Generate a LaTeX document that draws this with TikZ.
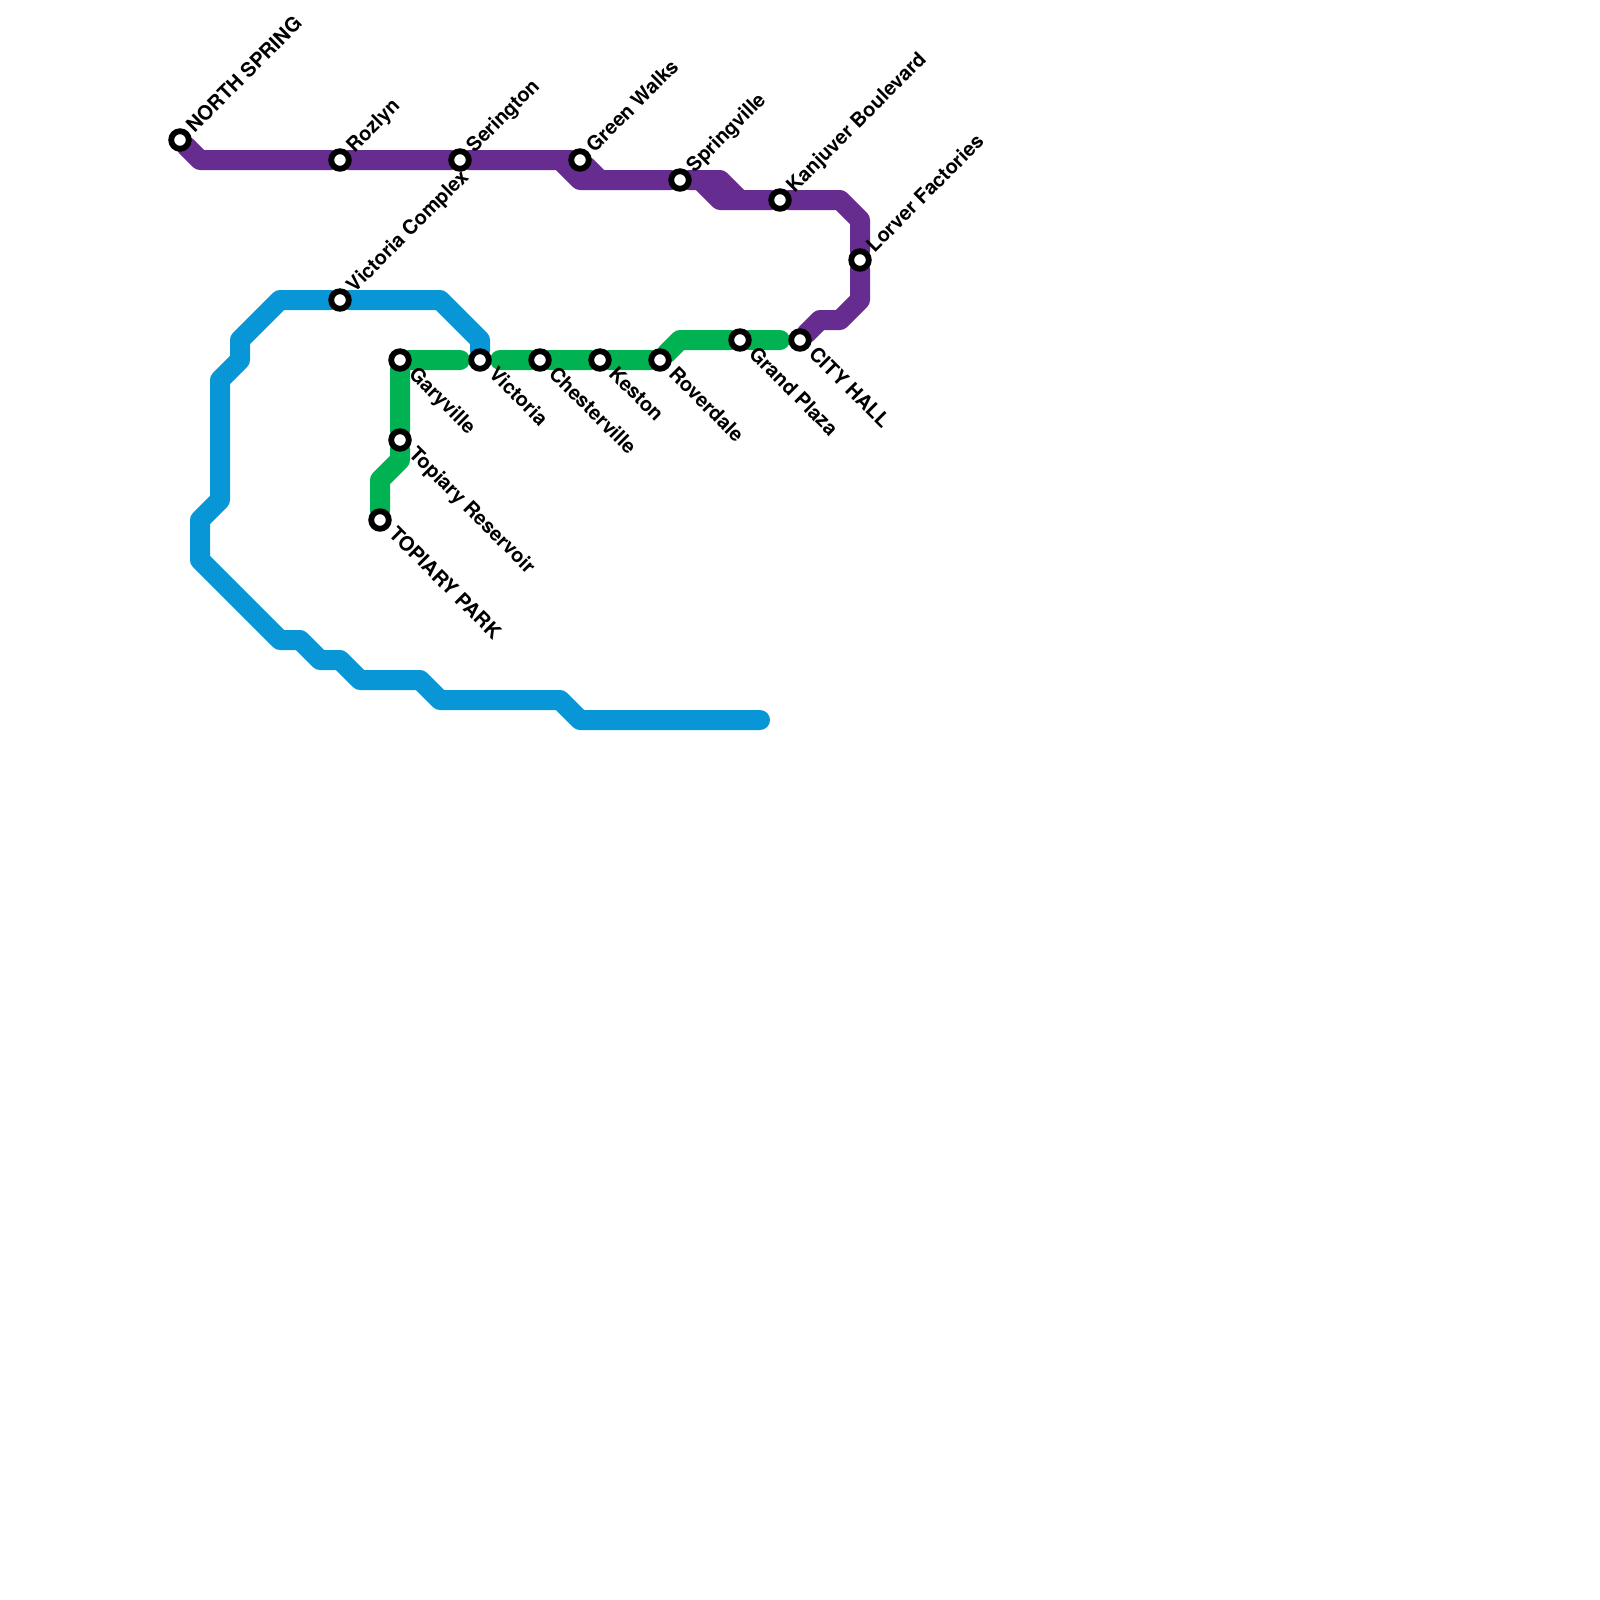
\documentclass[tikz,border=0pt]{standalone}
\usepackage{fontspec}
\setmainfont{TeX Gyre Heros}
\usetikzlibrary{backgrounds}
\definecolor{linepurple}{RGB}{102,44,144}
\definecolor{lineblue}{RGB}{8,150,215}
\definecolor{linegreen}{RGB}{0,178,81}

\begin{document}
\begin{tikzpicture}[x=0.5cm,y=-0.5cm,font=\bfseries\fontsize{14.2}{16}\selectfont,
  metro/.style={line width=0.5cm,line join=round,line cap=round},
  station/.style={circle,draw=black,fill=white,line width=0.145cm,
    minimum size=0.44cm,inner sep=0pt,outer sep=0pt},
  tagup/.style={anchor=west,rotate=45,inner sep=0pt,text height=0.72em,text depth=0.2em,
    xshift=0.37cm,yshift=-0.05cm},
  tagdown/.style={anchor=west,rotate=-45,inner sep=0pt,text height=0.72em,text depth=0.2em,
    xshift=0.40cm,yshift=-0.04cm}]
\useasboundingbox (0,0) rectangle (80,80);

% Stations with labels running up and to the right.
\foreach \name/\px/\py/\tag in {northspring/9/7/NORTH SPRING,rozlyn/17/8/Rozlyn,
  serington/23/8/Serington,greenwalks/29/8/Green Walks,springville/34/9/Springville,
  kanjuver/39/10/Kanjuver Boulevard,lorver/43/13/Lorver Factories,
  viccomplex/17/15/Victoria Complex} {
  \node[station] (\name) at (\px,\py) {};
  \node[tagup] (\name-tag) at (\name) {\tag};
}

% Stations with labels running down and to the right.
\foreach \name/\px/\py/\tag in {cityhall/40/17/CITY HALL,grandplaza/37/17/Grand Plaza,
  roverdale/33/18/Roverdale,keston/30/18/Keston,chesterville/27/18/Chesterville,
  victoria/24/18/Victoria,garyville/20/18/Garyville,
  topiaryres/20/22/Topiary Reservoir,topiarypark/19/26/TOPIARY PARK} {
  \node[station] (\name) at (\px,\py) {};
  \node[tagdown] (\name-tag) at (\name) {\tag};
}

\begin{scope}[on background layer]
% Purple line, in three overlapping runs.
\draw[metro,linepurple] (northspring)--(10,8)--(rozlyn)--(serington)--(greenwalks)--(30,9);
\draw[metro,linepurple] (28,8)--(29,9)--(springville)--(36,9)--(37,10);
\draw[metro,linepurple] (35,9)--(36,10)--(kanjuver)--(42,10)--(43,11)--(lorver)--(43,15)
  --(42,16)--(41,16)--(cityhall);
% Blue line.
\draw[metro,lineblue] (victoria)--(24,17)--(22,15)--(viccomplex)--(14,15)--(12,17)--(12,18)
  --(11,19)--(11,25)--(10,26)--(10,28)--(14,32)--(15,32)--(16,33)--(17,33)--(18,34)
  --(21,34)--(22,35)--(28,35)--(29,36)--(38,36);
% Green line, broken at the blue terminus.
\draw[metro,linegreen] (topiarypark)--(19,24)--(20,23)--(topiaryres)--(garyville)--(23,18);
\draw[metro,linegreen] (25,18)--(chesterville)--(keston)--(roverdale)--(34,17)--(grandplaza)--(39,17);
\end{scope}
\end{tikzpicture}
\end{document}
